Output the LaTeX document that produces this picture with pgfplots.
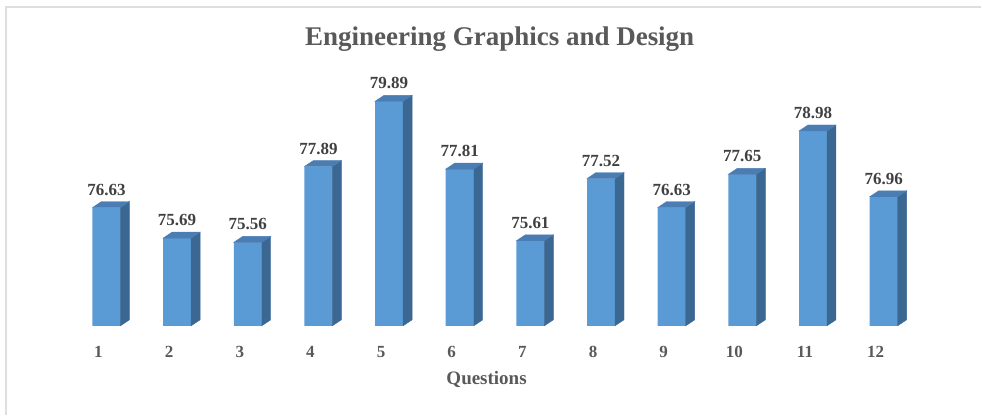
\documentclass[border=0pt]{standalone}
\usepackage{fontspec}
\setmainfont{Liberation Serif}
\usepackage{pgfplots}
\pgfplotsset{compat=1.18}
\usepackage{pgfplotstable}
\definecolor{front}{HTML}{5B9BD5}
\definecolor{sidec}{HTML}{3B6793}
\definecolor{topc}{HTML}{4A7DB3}
\definecolor{lbl}{HTML}{404040}
\definecolor{ttl}{HTML}{595959}
\pgfdeclareplotmark{blank}{}
\pgfplotstableread{
q v
1 76.63
2 75.69
3 75.56
4 77.89
5 79.89
6 77.81
7 75.61
8 77.52
9 76.63
10 77.65
11 78.98
12 76.96
}\data
\begin{document}
\begin{tikzpicture}
\path (-71.15pt,-89pt) rectangle (910.85pt,326pt);
\draw[black!13, line width=1.2pt] (-65.15pt,-89pt) -- (-65.15pt,319pt) -- (910.85pt,319pt);
\begin{axis}[
  at={(0pt,0pt)}, anchor=south west,
  scale only axis, width=848.4pt, height=293.4pt,
  xmin=0.5, xmax=12.5, ymin=73, ymax=82,
  clip=false,
  axis line style={draw=none},
  major tick length=0pt,
  tick style={draw=none},
  xtick={1,2,3,4,5,6,7,8,9,10,11,12},
  ytick=\empty,
  /pgf/number format/assume math mode=true,
  xticklabel style={font=\bfseries\fontsize{17}{17}\selectfont, text=ttl, anchor=base, yshift=-32pt, xshift=-8pt},
  title={Engineering Graphics and Design},
  every axis title/.style={at={(axis description cs:0.5055,0)}, anchor=base, yshift=280pt, font=\bfseries\fontsize{27}{27}\selectfont, text=ttl},
  xlabel={Questions},
  every axis x label/.style={at={(axis description cs:0.49,0)}, anchor=base, yshift=-59pt, font=\bfseries\fontsize{19}{19}\selectfont, text=ttl},
]
\addplot[ybar, bar width=28pt, fill=front, draw=none,
  point meta=rawy,
  nodes near coords={\pgfmathprintnumber[fixed,fixed zerofill,precision=2]{\pgfplotspointmeta}},
  every node near coord/.append style={anchor=south, inner sep=0pt, yshift=12pt, font=\bfseries\fontsize{17}{17}\selectfont, text=lbl}]
  table[x=q,y=v]{\data};
\addplot[scatter, only marks, mark=blank,
  visualization depends on={rawy \as \ry},
  scatter/@pre marker code/.code={%
    \pgfmathsetmacro\hh{(\ry-73)*32.6}%
    \fill[sidec] (14pt,0pt) -- (23pt,6pt) -- (23pt,{(6-\hh)*1pt}) -- (14pt,{-\hh*1pt}) -- cycle;
    \fill[topc] (-14pt,0pt) -- (14pt,0pt) -- (23pt,6pt) -- (-5pt,6pt) -- cycle;
  },
  scatter/@post marker code/.code={}]
  table[x=q,y=v]{\data};
\end{axis}
\end{tikzpicture}
\end{document}
